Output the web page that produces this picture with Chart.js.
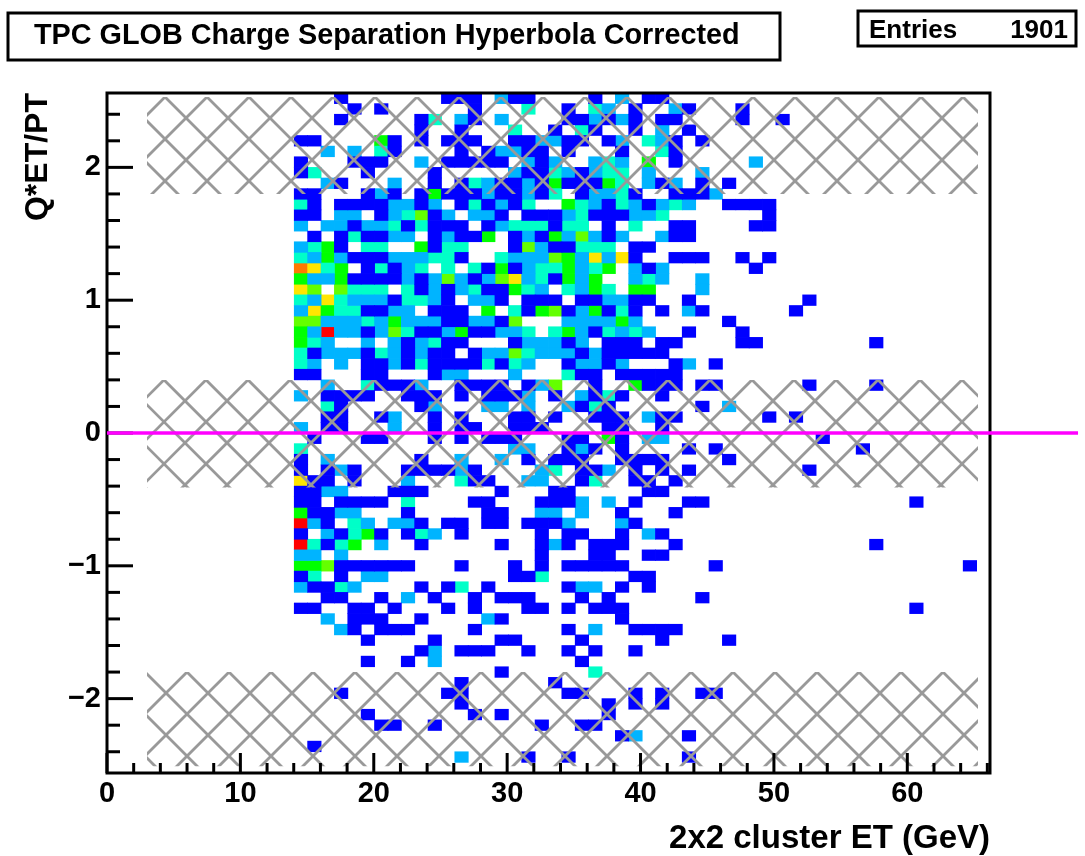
<!DOCTYPE html>
<html><head><meta charset="utf-8">
<style>html,body{margin:0;padding:0;background:#fff}canvas{display:block}</style>
<script src="https://cdn.jsdelivr.net/npm/chart.js@4/dist/chart.umd.min.js"></script>
</head><body>
<div style="width:1085px;height:856px;position:relative"><canvas id="c" width="1085" height="856"></canvas></div>
<script>
const titleText = "TPC GLOB Charge Separation Hyperbola Corrected";
const entriesLabel = "Entries";
const entriesValue = "1901";
const xTitle = "2x2 cluster ET (GeV)";
const yTitle = "Q*ET/PT";
const xRange = [0, 66.2];
const yRange = [-2.56, 2.56];
const xBinCount = 66;
const yBinCount = 64;
const levelColors = ["#0000ff","#00b4ff","#00ffc8","#00ff00","#64ff00","#ffe600","#ff7800","#ff0000"];
// Each row (top to bottom): "bin" or "first-last", with ":count" (count 1 if omitted)
const rowCounts = [
"17 25-27 29:2 30-31 36 38:2 40-41",
"18 20 27 31:3 34 36:3 37:2 39 42:2 43 47",
"17 23 24:3 26:2 27 29:2 34-35 36:2 37 38:2 39 41-42 47 50",
"23 26 30:3 33 35:3 36 39 41:2 43",
"14-15 20:4 21 23 25-27 30-31 32-33:2 34-35 37 38:2 40:3 41:2 42 44",
"16:2 18:2 20:3 21 26 28 29-30:2 31-32 34 38 41:3 42",
"14 18-20 23:2 25-29 31:2 32 33:2 36:2 37:3 38:2 40:4 42 48:2",
"14 15:3 19 24 30:2 31-32 33:3 34:2 35 36:2 37-38:3 40:2 44:2",
"16:2 17 21:2 24 26 27:3 28:2 29-30 31:2 32 33:4 34-36 37:4 38:3 40:2 41 42:2 44 46",
"14-15 19 20:2 21 23 24:4 25-27 28:2 29-30 31:2 32 33:3 35 36-37:2 38:3 39 42-44 45:2",
"14:3 15 17-20 21-22:2 23 24:2 26 27:3 28 29:2 30 31:3 34:4 35:3 36:2 37 38:3 39:2 40 41:2 42:3 43:2 46-49",
"14-15 17-18:2 20 21:2 22:3 23:5 24 25:2 27-28:2 29 31-33 34:2 35:3 36-38 39-40:2 41:3 49",
"14:2 16-17:2 18 19-20:2 21:3 22 23:3 24-26 28 29:2 30-32:3 33 34-35:3 37 39:3 42-43 48-49",
"15 17 18:3 19-20 21-22:2 24 25:2 26-27 28:4 30 31:2 32 33:4 34:2 35:5 36:2 37 38:2 41:2 42-43",
"14:2 15:3 16:4 17 19-20:3 23:4 24 25-26:3 30 31:5 32:2 33-34 35-37:3 39-40",
"14:3 15:2 16:4 17:2 18-20 21-23:2 24-25:3 26 29:3 30-32:2 33:5 34:4 35:2 36:6 37:2 38:6 39 42-44 47 49",
"14:7 15:6 16:3 17:4 19 20:3 21 22:2 23:3 25:3 27:3 28 29:4 30 31:2 32-33:3 34:4 35:2 36:3 37:4 39:2 40 41:2 48",
"14:4 15-16:2 17:4 18-21 22:2 23 24:2 25:5 26:2 27 28:2 29:5 30:6 31:2 32:3 33 34:4 35:2 36:4 39:2 40:3 41:2 44:2",
"14:6 15:5 17:5 18-20:3 22:3 23 24:2 25 26:2 27:3 28-29 30:4 31:3 32:2 34:3 35:2 36:4 37:3 39-40:4 44:2",
"14:3 15:2 16:6 17:3 18-20:2 21 22-23:3 24:2 25 27-28:2 29 31-33 35-36 37-38:2 39-40 43 52",
"14:2 15:6 16:4 17-18:3 19-20 21-22:2 24-26 28:4 30:3 31 32:4 33:5 34 35:2 36:4 37 38:3 39 41 43:2 44 51",
"14-15:5 16-18:2 19:3 20:2 21:4 22-24:2 25-26 27-28:2 29 30:5 34-37:2 38:4 39:2 46",
"14:4 15:2 16:8 17-18:2 19 20:2 21:5 22:3 23-24 25:2 26:4 27-28 29-30:2 31:3 33:3 34:4 35:2 36 37:3 38:2 39:3 40:2 43 47",
"14:4 15:3 16:2 19:2 21:2 22 23:2 24:3 25-26 30 31-33:2 34 35:2 37-39 41-42 47-48 57",
"14:3 15 16-18:2 19 20:3 21:2 22 23:2 24-25 27 28-29:2 30:5 31:3 32-34:2 35 36:2 37-41",
"14:3 15:2 17:2 19-20 21:2 22 23:3 24-27 28:3 29 30:3 31:2 34 35-36:2 37 38:2 42 43:2 45",
"14-15 19-20 24 25-26:2 30:2 34:3 35-36 38-42",
"16:2 19:3 20-22 23:2 26-29 31 32:2 33:5 36 39:4 40-42 44-45 52 57",
"14:2 16-19 22-24 26 28-30 31:2 33 35:2 36 37:3 38 41",
"16:3 17 23 24:2 28-29:2 31:2 34:2 35 36:3 37 44 46:2",
"16-17 20 21:2 24 26 30-31 33 36-38 40:2 41-42 49 51",
"14:2 16-17 21:2 24 26-27 30-32 37-38 41",
"15 19-20 24 26 28-30 34-35 37:4 38 40-41:2 53",
"14:3 30-31:2 34 35:2 36 38 43 45 56",
"14 16:2 23 26:2 29:2 31 33-35 38-41 46",
"14 16 17:2 18 22-25 26:2 27 32:2 33:3 35-36 37:2 39 41 43 52",
"14:6 15-16 18 22:2 26:3 27-28 31-32:2 35 36:3 39-40 42",
"14-15 16-17:2 21-23 29 33-34 40-41",
"14-15 17-20 22:3 27-28 32-34 35:2 37:2 39 43-44 60",
"14:4 15-16 17-18:2 22 28-29 32-33:2 35:2 38 42",
"14:8 15:2 16 18:3 19:2 21-22:2 23 25-26 28-29 31-33 34:2 38:2 39",
"14 16:2 17 18:3 19:4 20 22 23:3 24:2 26 32 34-35 38 40:2 41",
"14:8 15:3 16 17:3 18:4 20:2 23 29 32 33:2 34 36-38 42 57",
"14-15:2 17:2 32 36-37 40-41",
"14-15:4 16:5 17-22 26 30 32 34-38 45 64",
"14 15:3 17 19-20:2 30-31 32:3 39-40",
"14:2 15-16 17:3 18:2 23 25 26:3 28 34 35-36:2 38 40",
"16-17 20 22:2 24 27 29-31 35 37 44",
"14-15 18-19 21 25 27 31-32 34 36-38 60",
"16:2 18-20 23 28:2 29 38",
"17:2 18 20-22 27 34 36:2 39-41 42",
"19 24 29-30 35 41 46",
"23 24:2 26-28 31 34 36 39",
"19 22 24:2 35",
"29 36:3",
"26 33",
"17 25-26 34-35 39 41 44-45",
"26 37 39 41",
"19 27 29 37",
"20-21 24 32 35-36",
"38 39:2 43",
"15",
"26:2 31 34 43",
""
];
const hatchBandsX = [3.0, 65.3];
const hatchBandsY = [[2.53, 1.80], [0.40, -0.41], [-1.80, -2.51]];
const hatchTipsPx = [333, 332, 313];
const zeroLineX = [0, 72.8];
const zeroLineY = [0, 0];

const xBin = (xRange[1]-xRange[0])/xBinCount;
const yBin = (yRange[1]-yRange[0])/yBinCount;
const levels = levelColors.map(()=>[]);
rowCounts.forEach((row,r)=>{
  row.split(" ").filter(Boolean).forEach(tok=>{
    const [span,cnt] = tok.split(":");
    const [a,b] = span.split("-").map(Number);
    const n = cnt ? +cnt : 1;
    for(let c=a;c<=(b===undefined?a:b);c++){
      const top = yRange[1]-r*yBin;
      levels[n-1].push({x:(c+0.5)*xBin, y:[top-yBin, top]});
    }
  });
});
const F = "'Liberation Sans'";
function drawTick(ctx,x1,y1,x2,y2){ctx.beginPath();ctx.moveTo(x1,y1);ctx.lineTo(x2,y2);ctx.stroke();}
const decor = {
  id:'decor',
  beforeDatasetDraw(chart,args){
    if(args.meta.type!=='line') return;
    const {ctx,chartArea:a,scales:{x,y}} = chart;
    ctx.save();
    // hatched bands
    hatchBandsY.forEach((band,i)=>{
      const L=x.getPixelForValue(hatchBandsX[0]),R=x.getPixelForValue(hatchBandsX[1]);
      const T=y.getPixelForValue(band[0]),B=y.getPixelForValue(band[1]);
      ctx.save();ctx.beginPath();ctx.rect(L,T,R-L,B-T);ctx.clip();
      ctx.strokeStyle="#999999";ctx.lineWidth=2.8;
      const tip=hatchTipsPx[i],P=42,H=B-T;
      for(let k=-30;k<30;k++){
        const x0=tip+k*P;
        drawTick(ctx,x0-2,T-2,x0+H+2,B+2);
        drawTick(ctx,x0+2,T-2,x0-H-2,B+2);
      }
      ctx.restore();
    });
    // axis ticks and frame
    ctx.strokeStyle="#000";ctx.lineWidth=3;
    for(let v=0;v<=66;v+=2){
      const px=x.getPixelForValue(v);
      drawTick(ctx,px,a.bottom,px,a.bottom-(v%10===0?20:10));
    }
    for(let k=-12;k<=12;k++){
      const py=y.getPixelForValue(k/5);
      drawTick(ctx,a.left,py,a.left+(k%5===0?26:13),py);
    }
    ctx.lineWidth=3;
    ctx.strokeRect(a.left,a.top,a.right-a.left,a.bottom-a.top);
    ctx.restore();
  },
  afterDraw(chart){
    const {ctx}=chart;
    ctx.save();
    ctx.strokeStyle="#000";ctx.lineWidth=3;ctx.fillStyle="#000";
    ctx.strokeRect(8,13,772,47);
    ctx.strokeRect(858,11,218,35);
    ctx.textBaseline="middle";
    ctx.font="bold 28.8px "+F;ctx.textAlign="left";
    ctx.fillText(titleText,34,36);
    ctx.font="bold 26px "+F;
    ctx.fillText(entriesLabel,869,31);
    ctx.textAlign="right";
    ctx.fillText(entriesValue,1068,31);
    ctx.restore();
  }
};
const barSets = levels.map((d,i)=>({
  type:'bar',data:d,backgroundColor:levelColors[i],borderWidth:0,
  barThickness:13.5,grouped:false,order:2
}));
new Chart(document.getElementById('c'),{
  type:'bar',
  data:{datasets:[...barSets,{
    type:'line',data:zeroLineX.map((v,i)=>({x:v,y:zeroLineY[i]})),
    borderColor:"#ff00ff",borderWidth:3.5,pointRadius:0,clip:false,order:1
  }]},
  plugins:[decor],
  options:{
    responsive:false,animation:false,
    layout:{padding:{top:93,right:95,left:0,bottom:0}},
    plugins:{legend:{display:false},tooltip:{enabled:false}},
    scales:{
      x:{type:'linear',min:xRange[0],max:xRange[1],offset:false,
        grid:{display:false,drawTicks:false},border:{display:false},
        afterFit(s){s.height=83;},
        ticks:{stepSize:10,includeBounds:false,autoSkip:false,maxRotation:0,color:"#000",padding:4,
          font:{family:F,weight:'bold',size:29}},
        title:{display:true,text:xTitle,align:'end',color:"#000",padding:{top:0,bottom:-3},
          font:{family:F,weight:'bold',size:33}}},
      y:{type:'linear',min:yRange[0],max:yRange[1],
        grid:{display:false,drawTicks:false},border:{display:false},
        afterFit(s){s.width=107;},
        ticks:{stepSize:1,includeBounds:false,color:"#000",padding:6,
          callback:v=>String(v).replace('-','\u2212'),
          font:{family:F,weight:'bold',size:29}},
        title:{display:true,text:yTitle,align:'end',color:"#000",padding:{top:19,bottom:0},
          font:{family:F,weight:'bold',size:32}}}
    }
  }
});
</script>
</body></html>
